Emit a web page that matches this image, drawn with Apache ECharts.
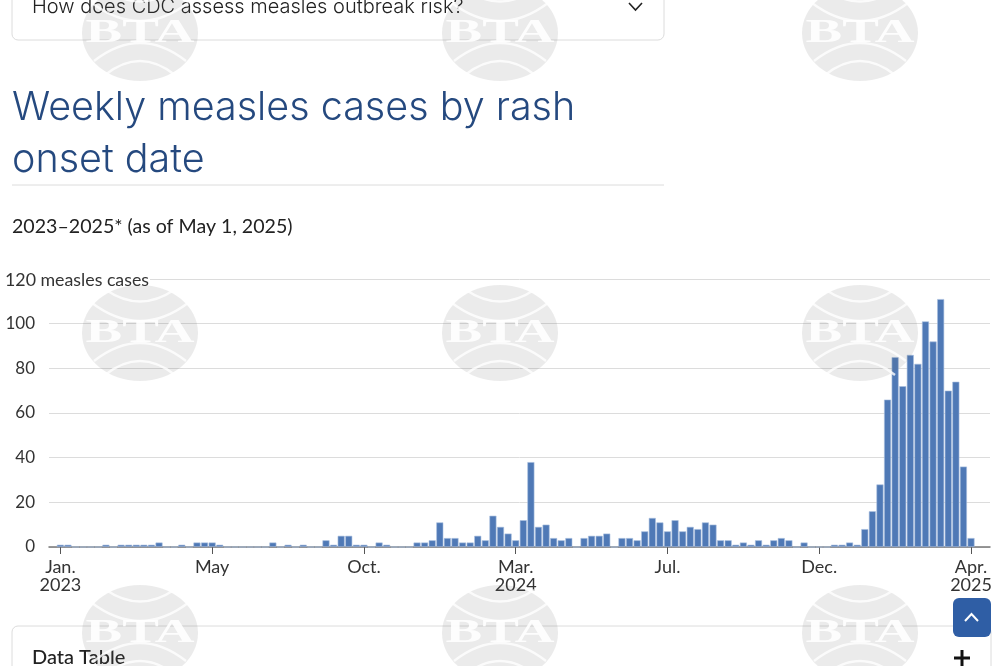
<!DOCTYPE html>
<html><head><meta charset="utf-8">
<style>html,body{margin:0;padding:0;background:#fff;overflow:hidden}#c{width:1000px;height:666px}</style>
<script src="https://cdn.jsdelivr.net/npm/echarts@6/dist/echarts.min.js"></script>
</head><body><div id="c"></div>
<script>
const weeklyCases = [1,1,0,0,0,0,1,0,1,1,1,1,1,2,0,0,1,0,2,2,
  2,1,0,0,0,0,0,0,2,0,1,0,1,0,0,3,1,5,5,1,
  1,0,2,1,0,0,0,2,2,3,11,4,4,2,2,5,3,14,9,6,
  3,12,38,9,10,4,3,4,0,4,5,5,6,0,4,4,3,7,13,11,
  7,12,7,9,8,11,10,3,3,1,2,1,3,1,3,4,3,0,2,0,
  0,0,1,1,2,1,8,16,28,66,85,72,86,82,101,92,111,70,74,36,4];
const tickLabels = ['Jan.\n2023','May','Oct.','Mar.\n2024','Jul.','Dec.','Apr.\n2025'];
const weeksPerTick = 20;
const yTicks = [0,20,40,60,80,100,120];
const unitLabel = '120 measles cases';
const titleText = 'Weekly measles cases by rash\nonset date';
const subtitleText = '2023–2025* (as of May 1, 2025)';
const accordionTop = 'How does CDC assess measles outbreak risk?';
const accordionBottom = 'Data Table';

const padStart = 1, padEnd = 2;
const categories = [], barData = [];
for (let i = 0; i < padStart; i++) { categories.push(' '); barData.push(null); }
weeklyCases.forEach((v, i) => {
  categories.push(i % weeksPerTick === 0 ? tickLabels[i / weeksPerTick] : 'w' + i);
  barData.push(v);
});
for (let i = 0; i < padEnd; i++) { categories.push('  '); barData.push(null); }
const isTick = idx => {
  const w = idx - padStart;
  return w >= 0 && w < weeklyCases.length && w % weeksPerTick === 0;
};

const bodyFont = 'Lato, "Open Sans", sans-serif';
const graphics = [
  {type:'rect', z:1, silent:true, shape:{x:12,y:-30,width:652,height:70,r:6}, style:{fill:'#fff',stroke:'#dcdcdc',lineWidth:1}},
  {type:'text', z:5, silent:true, x:32, y:7, style:{text:accordionTop, font:'300 20px Inter, Lato, sans-serif', fill:'#222', verticalAlign:'middle'}},
  {type:'polyline', z:5, silent:true, shape:{points:[[629,3],[635.5,10],[642,3]]}, style:{stroke:'#222',lineWidth:1.6,fill:null}},
  {type:'line', z:1, silent:true, shape:{x1:12,y1:185,x2:664,y2:185}, style:{stroke:'#dcdcdc',lineWidth:1}},
  {type:'text', z:20, silent:true, x:5, y:280, style:{text:unitLabel, font:'17.8px '+bodyFont, fill:'#333', verticalAlign:'middle', backgroundColor:'#fff', padding:[0,1,0,0]}},
  {type:'rect', z:1, silent:true, shape:{x:12,y:626,width:979,height:80,r:6}, style:{fill:'#fff',stroke:'#dcdcdc',lineWidth:1}},
  {type:'text', z:5, silent:true, x:32, y:658, style:{text:accordionBottom, font:'500 20px '+bodyFont, fill:'#222', verticalAlign:'middle'}},
  {type:'rect', z:5, silent:true, shape:{x:954,y:656.5,width:16,height:3}, style:{fill:'#111'}},
  {type:'rect', z:5, silent:true, shape:{x:960.5,y:650,width:3,height:16}, style:{fill:'#111'}},
  {type:'rect', z:60, silent:true, shape:{x:953,y:598,width:38,height:39,r:6}, style:{fill:'#2f5ea5'}},
  {type:'polyline', z:61, silent:true, shape:{points:[[965,621],[971.5,614],[978,621]]}, style:{stroke:'#fff',lineWidth:2,fill:null}}
];
[140,500,860].forEach(cx => [33,333,633].forEach(cy => {
  graphics.push({type:'ellipse', z:40, silent:true, shape:{cx:cx,cy:cy,rx:58,ry:48}, style:{fill:'rgba(100,100,100,0.13)'}});
  [[-34,-43,-20],[-48,-30,6],[-46,28,-8],[-35,42,14]].forEach(a => {
    graphics.push({type:'bezierCurve', z:41, silent:true,
      shape:{x1:cx+a[0],y1:cy+a[1],x2:cx-a[0],y2:cy+a[1],cpx1:cx,cpy1:cy+a[2]},
      style:{stroke:'rgba(255,255,255,0.8)',lineWidth:2.4,fill:null}});
  });
  graphics.push({type:'text', z:41, silent:true, x:cx, y:cy, scaleX:1.72, scaleY:1.05,
    style:{text:'BTA', font:'bold 32px "Liberation Serif", serif', fill:'rgba(255,255,255,0.9)', align:'center', verticalAlign:'middle'}});
}));

const chart = echarts.init(document.getElementById('c'), null, {renderer:'canvas'});
chart.setOption({
  animation:false,
  backgroundColor:'#fff',
  title:[
    {text:titleText, left:7, top:76.5, textStyle:{fontFamily:'Inter, Lato, sans-serif', fontWeight:300, fontSize:39.5, lineHeight:52.5, color:'#25497f'}},
    {text:subtitleText, left:7, top:212, textStyle:{fontFamily:bodyFont, fontWeight:'normal', fontSize:19.6, lineHeight:20, color:'#222'}}
  ],
  grid:{left:49, right:10, top:279, height:268, containLabel:false},
  xAxis:{
    type:'category', data:categories, boundaryGap:true,
    axisLine:{show:true, lineStyle:{color:'#777', width:1.5}},
    axisTick:{show:true, alignWithLabel:true, interval:isTick, length:7, lineStyle:{color:'#555', width:1}},
    axisLabel:{show:true, interval:isTick, margin:11.5, fontFamily:bodyFont, fontSize:18, lineHeight:17.5, color:'#333', hideOverlap:false, showMinLabel:true, showMaxLabel:true},
    splitLine:{show:false}
  },
  yAxis:{
    type:'value', min:yTicks[0], max:yTicks[yTicks.length-1], interval:yTicks[1]-yTicks[0],
    axisLine:{show:false}, axisTick:{show:false},
    axisLabel:{margin:14, align:'right', fontFamily:bodyFont, fontSize:17, color:'#333', padding:[5,0,0,0],
      formatter:v => v === yTicks[yTicks.length-1] ? '' : String(v)},
    splitLine:{show:true, lineStyle:{color:'#dcdcdc', width:1}}
  },
  series:[{
    type:'bar', data:barData, barWidth:7, z:3,
    itemStyle:{color:'#4f79b6', borderColor:'#a9bfdf', borderWidth:0.6}
  }],
  graphic:graphics
});
</script></body></html>
